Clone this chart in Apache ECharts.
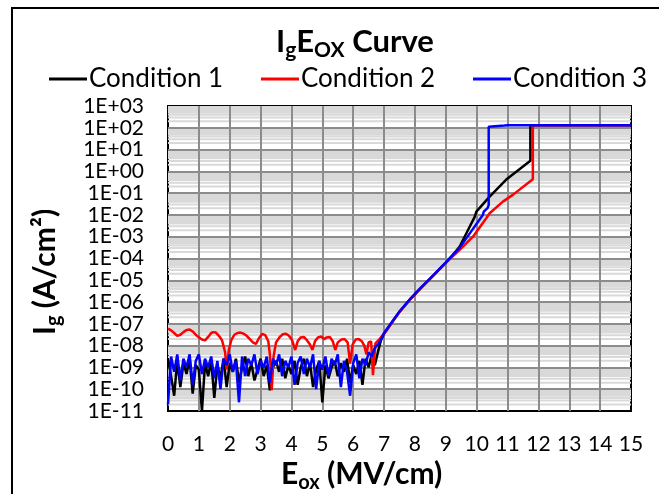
<!DOCTYPE html>
<html>
<head>
<meta charset="utf-8">
<script src="https://cdn.jsdelivr.net/npm/echarts@6/dist/echarts.min.js"></script>
<style>
  html, body { margin: 0; padding: 0; background: #fff; }
  #main { width: 659px; height: 494px; }
</style>
</head>
<body>
<div id="main"></div>
<script>
var seriesNames = ["Condition 1", "Condition 2", "Condition 3"];

// Condition 1 (black)
var blackX = [0, 0.1, 0.2, 0.3, 0.4, 0.5, 0.6, 0.7, 0.8, 0.9, 1.0, 1.1, 1.2, 1.3, 1.4, 1.5, 1.6, 1.7, 1.8, 1.9,
  2.0, 2.1, 2.2, 2.3, 2.4, 2.5, 2.6, 2.7, 2.8, 2.9, 3.0, 3.1, 3.2, 3.3, 3.4, 3.5, 3.6, 3.7, 3.8, 3.9,
  4.0, 4.1, 4.2, 4.3, 4.4, 4.5, 4.6, 4.7, 4.8, 4.9, 5.0, 5.1, 5.2, 5.3, 5.4, 5.5, 5.6, 5.7, 5.8, 5.9,
  6.0, 6.1, 6.2, 6.3, 6.4, 6.5, 6.6, 6.7, 6.8, 6.9, 7.0, 7.2, 7.5, 7.83, 8.2, 8.6, 9.0, 9.23, 9.45, 9.7,
  9.94, 9.99, 10.42, 10.95, 11.74, 11.74, 15];
var blackExp = [-8.6, -9.4, -10.3, -8.7, -9.9, -8.8, -9.3, -8.6, -10.2, -8.9, -9.1, -11.0, -8.8, -9.4, -8.7, -10.4, -8.9, -9.5, -8.6, -9.9,
  -8.8, -9.2, -8.6, -9.7, -9.0, -8.5, -9.4, -8.8, -9.6, -9.1, -8.6, -9.4, -8.9, -10.05, -9.0, -8.7, -9.2, -8.6, -9.5, -8.9,
  -9.3, -8.7, -9.8, -9.0, -8.6, -9.4, -8.8, -9.9, -9.1, -8.7, -10.6, -8.9, -9.5, -9.0, -8.7, -9.4, -8.8, -9.2, -8.6, -9.7,
  -8.9, -9.3, -8.7, -9.8, -8.6, -9.0, -8.4, -8.9, -8.3, -7.75, -7.45, -7.05, -6.45, -5.9, -5.35, -4.78, -4.2, -3.83, -3.45, -2.75,
  -2.08, -1.85, -1.16, -0.39, 0.49, 2.12, 2.12];

// Condition 2 (red)
var redX = [0, 0.1, 0.2, 0.3, 0.4, 0.5, 0.6, 0.7, 0.8, 0.9, 1.0, 1.1, 1.2, 1.3, 1.4, 1.47, 1.55, 1.65, 1.75, 1.85,
  1.9, 1.97, 2.05, 2.15, 2.25, 2.35, 2.45, 2.55, 2.65, 2.75, 2.85, 2.95, 3.05, 3.15, 3.25, 3.3, 3.36, 3.42, 3.5, 3.62,
  3.72, 3.82, 3.92, 4.02, 4.12, 4.2, 4.3, 4.4, 4.5, 4.6, 4.68, 4.76, 4.86, 4.96, 5.06, 5.14, 5.24, 5.34, 5.42, 5.5,
  5.62, 5.72, 5.82, 5.9, 5.98, 6.08, 6.18, 6.28, 6.36, 6.43, 6.5, 6.58, 6.64, 6.72, 6.82, 7.0, 7.2, 7.5, 7.83, 8.2,
  8.6, 9.0, 9.45, 9.88, 10.31, 10.42, 10.85, 11.17, 11.82, 11.82, 15];
var redExp = [-7.22, -7.3, -7.42, -7.55, -7.5, -7.38, -7.28, -7.26, -7.35, -7.5, -7.62, -7.72, -7.76, -7.6, -7.42, -7.38, -7.4, -7.55, -7.75, -8.3,
  -9.1, -8.2, -7.75, -7.5, -7.42, -7.4, -7.45, -7.55, -7.7, -7.85, -7.92, -7.65, -7.46, -7.52, -7.8, -8.4, -10.05, -8.5, -7.85, -7.6,
  -7.48, -7.45, -7.55, -7.75, -8.2, -7.8, -7.62, -7.6, -7.75, -7.95, -8.2, -7.8, -7.62, -7.58, -7.7, -7.62, -7.6, -7.8, -8.2, -7.85,
  -7.72, -7.7, -7.85, -8.83, -7.95, -7.72, -7.7, -7.8, -8.0, -8.4, -7.85, -7.8, -9.36, -7.9, -7.75, -7.45, -7.05, -6.45, -5.9, -5.35,
  -4.78, -4.2, -3.6, -3.0, -2.15, -1.92, -1.39, -1.08, -0.36, 2.12, 2.12];

// Condition 3 (blue)
var blueX = [0, 0.1, 0.2, 0.3, 0.4, 0.5, 0.6, 0.7, 0.8, 0.9, 1.0, 1.1, 1.2, 1.3, 1.4, 1.5, 1.6, 1.7, 1.8, 1.9,
  2.0, 2.1, 2.2, 2.3, 2.4, 2.5, 2.6, 2.7, 2.8, 2.9, 3.0, 3.1, 3.2, 3.3, 3.4, 3.5, 3.6, 3.7, 3.8, 3.9,
  4.0, 4.1, 4.2, 4.3, 4.4, 4.5, 4.6, 4.7, 4.8, 4.9, 5.0, 5.1, 5.2, 5.3, 5.4, 5.5, 5.6, 5.7, 5.8, 5.9,
  6.0, 6.1, 6.2, 6.3, 6.4, 6.5, 6.6, 6.7, 6.8, 6.9, 7.0, 7.2, 7.5, 7.83, 8.2, 8.6, 9.0, 9.45, 9.8, 10.2,
  10.23, 10.35, 10.39, 10.39, 10.9, 11.0, 15];
var blueExp = [-10.7, -8.5, -9.2, -8.4, -9.6, -8.6, -9.0, -8.4, -9.8, -8.7, -8.4, -9.3, -8.6, -9.0, -8.5, -9.5, -8.7, -10.0, -8.6, -8.9,
  -8.4, -9.2, -8.7, -10.6, -8.5, -9.4, -8.6, -8.9, -8.4, -9.3, -8.7, -9.0, -8.5, -9.7, -8.6, -8.9, -8.4, -9.4, -8.7, -9.0,
  -8.5, -9.8, -8.8, -8.5, -9.3, -8.6, -9.0, -8.4, -10.0, -8.7, -9.1, -8.5, -9.4, -8.6, -8.9, -8.4, -9.9, -8.7, -9.2, -10.3,
  -8.8, -8.4, -9.5, -8.6, -8.9, -8.3, -8.5, -8.1, -7.95, -7.72, -7.42, -7.02, -6.43, -5.88, -5.33, -4.76, -4.18, -3.5, -2.8, -2.0,
  -1.85, -1.69, -1.55, 2.05, 2.1, 2.12, 2.12];

var xTicks = { min: 0, max: 15, step: 1 };
var yDecades = { min: -11, max: 3 };

function toPoints(xs, exps) {
  return xs.map(function (x, i) { return [x, Math.pow(10, exps[i])]; });
}

function sciLabel(v) {
  var e = Math.round(Math.log10(v));
  var a = Math.abs(e);
  return "1E" + (e < 0 ? "-" : "+") + (a < 10 ? "0" : "") + a;
}

// light minor gridlines at 2..9 of every decade, drawn as broken line segments across the plot
var minorGrid = [];
for (var d = yDecades.min; d < yDecades.max; d++) {
  for (var m = 2; m <= 9; m++) {
    var v = m * Math.pow(10, d);
    minorGrid.push([xTicks.min, v], [xTicks.max, v], ["-", "-"]);
  }
}

var FONT = "Lato";
var chart = echarts.init(document.getElementById("main"));

function subRich(size) {
  return {
    a: { fontFamily: FONT, fontWeight: "bold", fontSize: size, lineHeight: size + 2, color: "#000" },
    s: { fontFamily: FONT, fontWeight: "bold", fontSize: Math.round(size * 0.68), lineHeight: Math.round(size * 0.68),
         color: "#000", padding: [Math.round(size * 0.58), 0, 0, 0] }
  };
}

function lineSeries(name, xs, exps, color, z) {
  return {
    name: name,
    type: "line",
    data: toPoints(xs, exps),
    symbol: "none",
    z: z,
    lineStyle: { color: color, width: 2.5 },
    itemStyle: { color: color },
    emphasis: { disabled: true }
  };
}

function legendAt(left, name) {
  return {
    data: [name],
    left: left,
    top: 61,
    icon: "rect",
    itemWidth: 38,
    itemHeight: 3,
    textStyle: { fontFamily: FONT, fontSize: 26, color: "#000", padding: [0, 0, 0, -3] }
  };
}

chart.setOption({
  animation: false,
  title: {
    text: "{a|I}{s|g}{a|E}{s|OX}{a| Curve}",
    left: 271,
    top: 20,
    textStyle: { rich: subRich(31) }
  },
  legend: [legendAt(44, seriesNames[0]), legendAt(256, seriesNames[1]), legendAt(468, seriesNames[2])],
  grid: {
    left: 168, top: 106, width: 463, height: 305,
    show: true, backgroundColor: "#fff", borderColor: "#000", borderWidth: 2
  },
  xAxis: {
    type: "value",
    min: xTicks.min, max: xTicks.max, interval: xTicks.step,
    z: 2,
    axisLine: { show: false },
    axisTick: { show: false },
    axisLabel: { fontFamily: FONT, fontSize: 21, color: "#000", margin: 23 },
    splitLine: { show: true, showMinLine: false, showMaxLine: false, lineStyle: { color: "#8c8c8c", width: 2 } }
  },
  yAxis: {
    type: "log",
    logBase: 10,
    min: Math.pow(10, yDecades.min), max: Math.pow(10, yDecades.max), interval: 1,
    z: 2,
    axisLine: { show: false },
    axisTick: { show: false },
    axisLabel: { fontFamily: FONT, fontSize: 21, color: "#000", margin: 24, formatter: sciLabel },
    splitLine: { show: true, showMinLine: false, showMaxLine: false, lineStyle: { color: "#8c8c8c", width: 2 } }
  },
  graphic: [
    {
      type: "rect", silent: true, z: -1,
      shape: { x: 12, y: 8, width: 700, height: 600 },
      style: { fill: "none", stroke: "#000", lineWidth: 2 }
    },
    {
      type: "text", silent: true,
      x: 281, y: 458,
      style: { text: "{a|E}{s|ox}{a| (MV/cm)}", rich: subRich(30) }
    },
    {
      type: "text", silent: true,
      x: 29, y: 335, rotation: Math.PI / 2,
      style: { text: "{a|I}{s|g}{a| (A/cm²)}", rich: subRich(30) }
    }
  ],
  series: [
    {
      type: "line", data: minorGrid, silent: true, z: 1,
      symbol: "none", connectNulls: false,
      lineStyle: { color: "#d9d9d9", width: 2 },
      emphasis: { disabled: true }
    },
    lineSeries(seriesNames[0], blackX, blackExp, "#000000", 3),
    lineSeries(seriesNames[1], redX, redExp, "#ff0000", 4),
    lineSeries(seriesNames[2], blueX, blueExp, "#0000ff", 5)
  ]
});
</script>
</body>
</html>
